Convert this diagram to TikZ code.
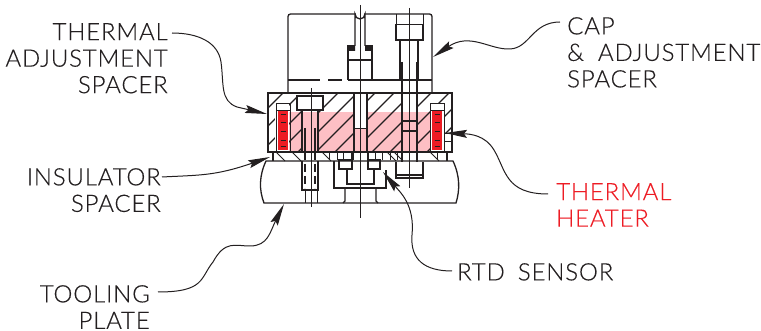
\documentclass[tikz,border=0pt]{standalone}
\usepackage{fontspec}
\setmainfont{Lato Light}[LetterSpace=3.5,FakeBold=0.3]
\usetikzlibrary{arrows.meta}
\definecolor{inkline}{HTML}{231F20}
\definecolor{heatred}{HTML}{ED1C24}
\definecolor{heatzone}{HTML}{FDBFC4}
\begin{document}
\begin{tikzpicture}
  [x=1pt,y=-1pt,
   lbl/.style={inner sep=0pt,text=inkline,font=\fontsize{24}{26.5}\selectfont},
   lead/.style={line width=1pt,inkline,-{Stealth[length=22pt,width=8pt,inset=3pt]}},
   part/.style={line width=1.3pt,inkline},
   heavy/.style={line width=1.8pt,inkline},
   fine/.style={line width=0.8pt,inkline},
   hatch/.style={line width=1.1pt,inkline}]
\useasboundingbox (0,0) rectangle (761,331);

% labels
\node (adjspacer)[lbl,anchor=north east,align=right] at (168,23) {THERMAL\\ADJUSTMENT\\SPACER};
\node (insspacer)[lbl,anchor=north east,align=right] at (161,168) {INSULATOR\\SPACER};
\node (toolplate)[lbl,anchor=north east,align=right] at (150,285) {TOOLING\\PLATE};
\node (capspacer)[lbl,anchor=north west,align=left] at (567,17) {CAP\\\&\hspace{14pt}ADJUSTMENT\\SPACER};
\node (heater)[lbl,anchor=north west,align=left,text=heatred] at (556,183) {THERMAL\\HEATER};
\node (rtd)[lbl,anchor=north west] at (457,263) {RTD\hspace{13pt}SENSOR};

% pointed places
\coordinate (adjtip) at (267,114);
\coordinate (instip) at (270,157);
\coordinate (tooltip) at (284,204);
\coordinate (captip) at (433,57);
\coordinate (heattip) at (445,133);
\coordinate (rtdtip) at (383,172);

% plate, pink zone and hatching
\fill[heatzone] (288,112) rectangle (432,152);
\begin{scope}
  \clip (268,93) rectangle (452,152);
  \foreach \x in {283,301,320,338,357,375,394,412,431,449,468,486,505}
    \draw[hatch] (\x,93) -- ++(-59,59);
\end{scope}
\fill[white] (297,94) rectangle (323,110);
\fill[white] (302,94) rectangle (318,112);
\fill[heatzone] (302,112) rectangle (318,152);
\fill[white] (354,94) rectangle (367,128);
\fill[heatzone] (354,128) rectangle (367,152);
\fill[white] (402,94) rectangle (417,112);
\fill[heatzone] (402,112) rectangle (417,152);
\fill[white] (275,103) rectangle (289,152);
\fill[white] (431,103) rectangle (444,152);
\fill[white] (444,133) rectangle (452,152);
\draw[part] (268,93) rectangle (452,152);

% heaters
\foreach \x in {278,432}{
  \fill[heatred] (\x,111) rectangle ++(10,39);
  \draw[fine] (\x-2,103) rectangle ++(14,49);
  \draw[fine] (\x-2,110) -- ++(14,0);
  \foreach \y in {115,123,132,141,147}
    \draw[line width=1pt,inkline] (\x+2.5,\y) -- ++(5,0);
}
\draw[fine] (444,133) -- (452,133) (444,141) -- (452,141);

% cap
\draw[part,rounded corners=2.5pt] (288,93) -- (288,14) -- (432,14) -- (432,93);
\draw[heavy] (288,80) -- (320,80) (328,80) -- (342,80) (348,80) -- (432,80);
\fill[white] (356,9) rectangle (364,46);

% centre pin
\draw[part] (355,46) -- (355,14) arc (180:0:5) -- (365,46);
\draw[heavy] (348,80) -- (348,46) -- (355,46) (365,46) -- (372,46) -- (372,80);
\draw[part] (348,60) -- (372,60);
\fill[inkline] (349,46) rectangle (355,51) (365,46) rectangle (371,51);
\draw[heavy] (354,93) -- (354,152) (367,93) -- (367,152);
\draw[heavy] (354,128.5) -- (367,128.5);

% right bolt
\fill[white] (397,15) rectangle (423,40);
\draw[fine] (396,14) -- (396,40) (423,14) -- (423,40);
\draw[heavy] (396,24.5) -- (423,24.5) -- (423,40) -- (396,40) -- cycle;
\draw[part] (400,40) -- (400,80) (418,40) -- (418,80);
\draw[heavy] (402,62) -- (402,162) (417,62) -- (417,162);
\draw[part] (402,121) -- (417,121) (402,131) -- (417,131);
\draw[fine] (409,8) -- (409,188);
\draw[part] (396,162) -- (396,178) -- (423,178) -- (423,162);
\draw[part] (396,175) -- (423,175);

% left bolt
\draw[part,fill=white] (297,96) rectangle (323,110);
\draw[part] (302,110) -- (302,152) (318,110) -- (318,152);
\draw[heavy] (305,128) -- (305,152) (315,128) -- (315,152);
\draw[fine] (311,88) -- (311,207);

% insulator row
\draw[part] (273,152) -- (273,161) (447,152) -- (447,161);
\foreach \x in {329,337,343,353,368,375,382,390,397,437}
  \draw[fine] (\x,152) -- (\x,160);
\foreach \x in {276,292,322,387,394,430}
  \draw[fine] (\x,152) -- ++(9,9);

% tooling plate
\draw[part] (264,203) .. controls (259,190) and (259,176) .. (266,161) -- (453,161)
  .. controls (460,176) and (460,190) .. (456,203) -- cycle;
\draw[part] (302,161) -- (302,190) -- (318,190) -- (318,161);
\draw[fine] (305,190) -- (305,203) (317,190) -- (317,203);
\draw[line width=1.5pt,inkline,dash pattern=on 8pt off 4pt] (305,152) -- (305,188) (315,152) -- (315,188);

% pocket with nut
\fill[white] (335,162) rectangle (386,188);
\draw[part] (334,161) -- (334,188) -- (386,188) -- (386,170);
\draw[part] (345,188) -- (345,201) -- (343,203) (376,188) -- (376,201) -- (378,203);
\draw[part] (339,160) rectangle (352,169) (368,160) rectangle (380,169);
\draw[part] (347,169) -- (347,184) -- (374,184) -- (374,169);
\draw[heavy] (348,184.5) -- (373,184.5);
\draw[heavy] (352,152) -- (352,167) (368,152) -- (368,167);
\draw[fine] (360,5) -- (360,218);

% leaders
\draw[lead] ([shift={(4,10)}]adjspacer.north east) .. controls (198,33) and (218,42) .. (221,62)
  .. controls (224,84) and (220,101) .. (237,107) -- (adjtip);
\draw[lead] ([shift={(1,9)}]insspacer.north east) .. controls (200,175) and (215,176) .. (instip);
\draw[lead] ([shift={(8,7)}]toolplate.north east) .. controls (205,292) and (200,278) .. (213,262)
  .. controls (225,240) and (235,246) .. (250,246) .. controls (268,246) and (270,232) .. (tooltip);
\draw[lead] ([shift={(-7,5)}]capspacer.north west) .. controls (532,22) and (530,48) .. (510,49)
  .. controls (490,50) and (470,32) .. (captip);
\draw[lead] ([shift={(-8,11)}]heater.north west) .. controls (505,194) and (506,170) .. (494,150)
  .. controls (485,135) and (470,134) .. (heattip);
\draw[lead] ([shift={(-5,8)}]rtd.north west) .. controls (425,271) and (410,260) .. (412,235)
  .. controls (415,205) and (400,192) .. (rtdtip);
\end{tikzpicture}
\end{document}
